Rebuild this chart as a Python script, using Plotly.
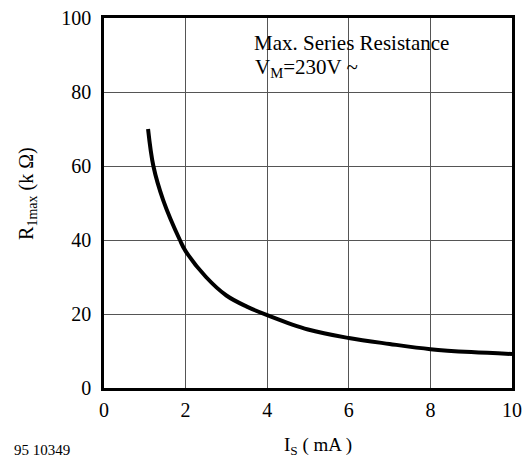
import plotly.graph_objects as go

# Data
current_mA = [1.08, 1.21, 1.45, 1.86, 2.0, 2.5, 3.0, 3.5, 4.0, 5.0, 6.0, 7.0, 8.0, 9.0, 10.0]
resistance_kohm = [70.0, 60.0, 50.8, 40.0, 37.0, 30.0, 25.0, 22.0, 19.7, 15.8, 13.5, 11.9, 10.5, 9.7, 9.2]

x_ticks = [0, 2, 4, 6, 8, 10]
y_ticks = [0, 20, 40, 60, 80, 100]

font_family = "Times New Roman, Liberation Serif, DejaVu Serif, serif"

fig = go.Figure()
fig.add_trace(go.Scatter(
    x=current_mA, y=resistance_kohm, mode="lines",
    line=dict(color="black", width=4, shape="spline", smoothing=1.0),
    showlegend=False, hoverinfo="skip",
))

# page body has an 8px default margin, so the figure is 8px smaller
fig.update_layout(
    width=523, height=451,
    margin=dict(l=96, r=19, t=10, b=71, autoexpand=False),
    plot_bgcolor="white", paper_bgcolor="white",
    font=dict(family=font_family, size=20, color="black"),
    showlegend=False,
)
fig.update_xaxes(
    range=[0, 10], tickvals=x_ticks, ticktext=[str(v) for v in x_ticks],
    showgrid=True, gridcolor="#555555", gridwidth=1,
    showline=True, linecolor="black", linewidth=2.5, mirror=True,
    ticks="", ticklabelstandoff=2, zeroline=False, automargin=False,
    ticklabeloverflow="allow",
    tickfont=dict(family=font_family, size=20, color="black"),
)
fig.update_yaxes(
    range=[0, 100], tickvals=y_ticks, ticktext=[str(v) for v in y_ticks],
    showgrid=True, gridcolor="#555555", gridwidth=1,
    showline=True, linecolor="black", linewidth=2.5, mirror=True,
    ticks="", ticklabelstandoff=6, zeroline=False, automargin=False,
    ticklabeloverflow="allow",
    tickfont=dict(family=font_family, size=20, color="black"),
)

fig.add_annotation(
    text="Max. Series Resistance", xref="paper", yref="paper",
    x=0.362, y=0.932, xanchor="left", yanchor="middle", showarrow=False,
    font=dict(family=font_family, size=21),
)
fig.add_annotation(
    text="V<sub>M</sub>=230V ~", xref="paper", yref="paper",
    x=0.365, y=0.866, xanchor="left", yanchor="middle", showarrow=False,
    font=dict(family=font_family, size=21),
)
fig.add_annotation(
    text="R<sub>1max</sub> (k Ω)", xref="paper", yref="paper",
    x=-0.189, y=0.527, xanchor="center", yanchor="middle", textangle=-90,
    showarrow=False, font=dict(family=font_family, size=20),
)
fig.add_annotation(
    text="I<sub>S</sub> ( mA )", xref="paper", yref="paper",
    x=0.525, y=-0.156, xanchor="center", yanchor="middle",
    showarrow=False, font=dict(family=font_family, size=19),
)
fig.add_annotation(
    text="95 10349", xref="paper", yref="paper",
    x=-0.226, y=-0.167, xanchor="left", yanchor="middle",
    showarrow=False, font=dict(family=font_family, size=15),
)

fig.write_html("out.html")
